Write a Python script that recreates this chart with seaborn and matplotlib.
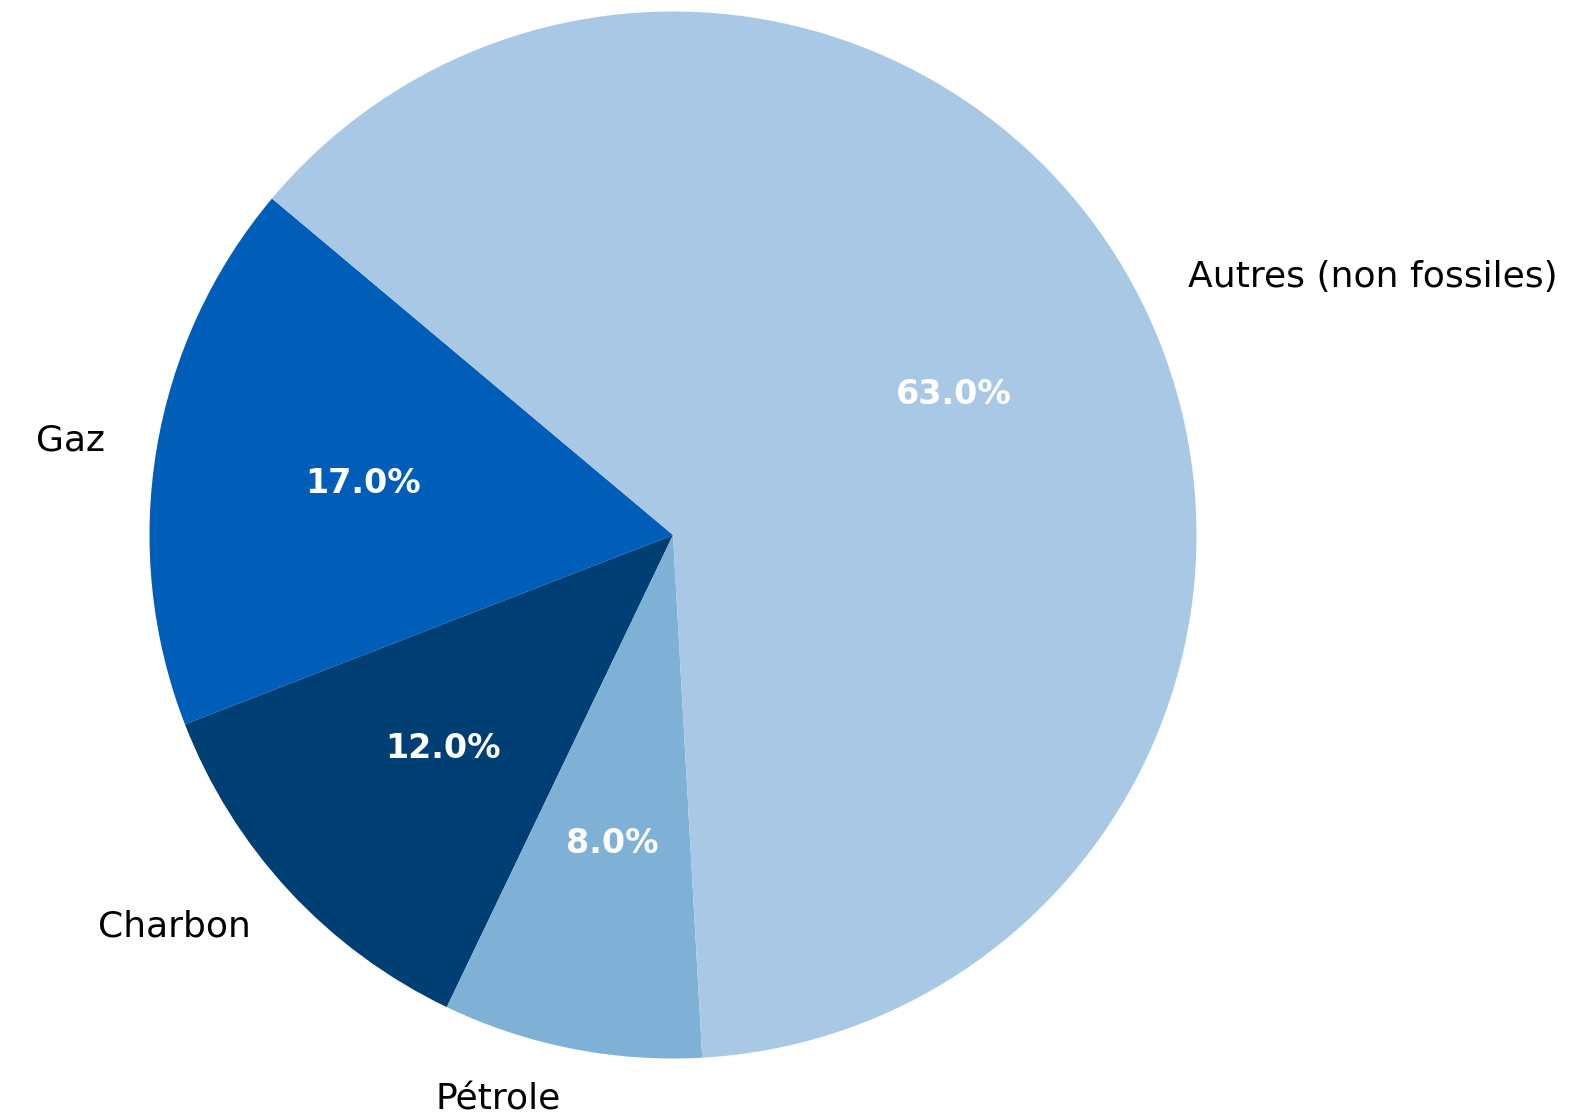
import matplotlib
matplotlib.use("Agg")
import matplotlib.pyplot as plt
import seaborn as sns

categories = ["Gaz", "Charbon", "Pétrole", "Autres (non fossiles)"]
values = [17.0, 12.0, 8.0, 63.0]
colors = ["#005EB8", "#003F73", "#7FB0D6", "#A8C8E6"]

sns.set_theme(style="white")
plt.rcParams['font.family'] = ['DejaVu Sans']

fig = plt.figure(figsize=(15.95, 11.16), dpi=100)
r = 523.5
cx, cy = 673, 1116 - 535
ax = fig.add_axes([(cx - r) / 1595, (cy - r) / 1116, 2 * r / 1595, 2 * r / 1116])
wedges, texts, autotexts = ax.pie(
    values, labels=categories, colors=colors, startangle=140,
    autopct='%1.1f%%', pctdistance=0.6, labeldistance=1.1,
    textprops={'fontsize': 26, 'color': 'black'},
    wedgeprops={'linewidth': 0},
)
for t in autotexts:
    t.set_color('white')
    t.set_fontweight('bold')
    t.set_fontsize(24)
ax.set_xlim(-1, 1)
ax.set_ylim(-1, 1)
ax.set_aspect('equal')
ax.axis('off')
fig.savefig("out.png", dpi=100)
